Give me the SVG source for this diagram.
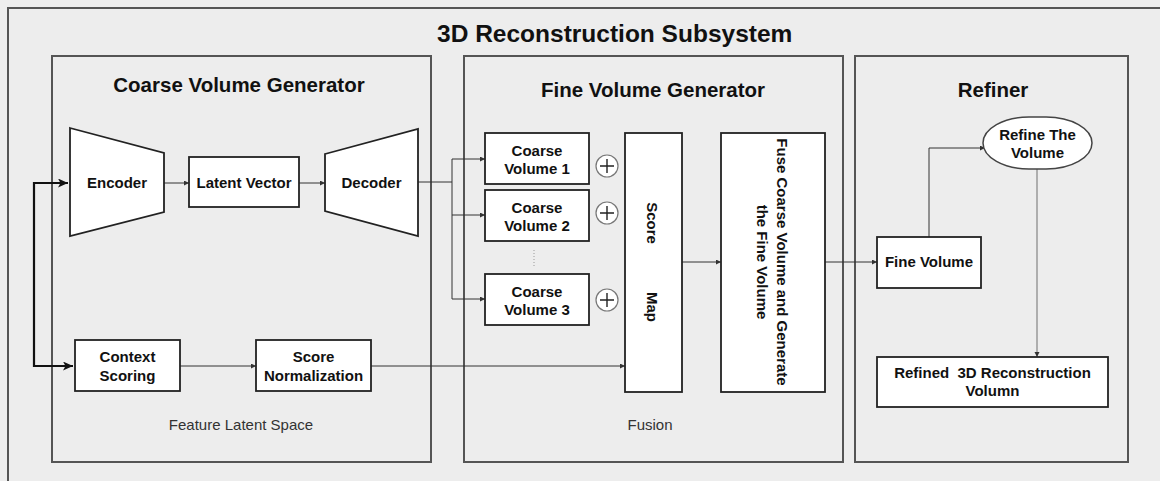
<svg xmlns="http://www.w3.org/2000/svg" width="1160" height="481" viewBox="0 0 1160 481">
  <style>
    .panel { fill: none; stroke: #555; stroke-width: 2; }
    .node { fill: #fff; stroke: #222; stroke-width: 1.8; }
    .lbl { font-family: "Liberation Sans", Arial, sans-serif; font-weight: bold; font-size: 15px; fill: #111; text-anchor: middle; }
    .ptitle { font-family: "Liberation Sans", Arial, sans-serif; font-weight: bold; font-size: 20.5px; fill: #111; text-anchor: middle; }
    .note { font-family: "Liberation Sans", Arial, sans-serif; font-size: 15px; fill: #333; text-anchor: middle; }
    .vert { dominant-baseline: central; }
    .wire { fill: none; stroke: #333; stroke-width: 1; }
    .thick { fill: none; stroke: #111; stroke-width: 2.2; }
    .plus { fill: #fff; stroke: #777; stroke-width: 1.2; }
    .plusmark { stroke: #222; stroke-width: 1.4; }
  </style>
  <defs>
    <marker id="arrowSmall" markerUnits="userSpaceOnUse" markerWidth="6" markerHeight="6" refX="5" refY="2.5" orient="auto">
      <path d="M0,0 L5,2.5 L0,5 Z" fill="#333"/>
    </marker>
    <marker id="arrowBold" markerUnits="userSpaceOnUse" markerWidth="12" markerHeight="10" refX="10" refY="4.5" orient="auto-start-reverse">
      <path d="M0,0 L10,4.5 L0,9 L2.5,4.5 Z" fill="#111"/>
    </marker>
  </defs>

  <!-- background and outer subsystem frame -->
  <rect x="0" y="0" width="1160" height="481" fill="#ededed"/>
  <rect x="8" y="8" width="1170" height="500" class="panel"/>
  <text x="437" y="42" font-family="Liberation Sans, Arial, sans-serif" font-weight="bold" font-size="24.5" fill="#111">3D Reconstruction Subsystem</text>

  <!-- stage panels -->
  <g id="coarse-panel">
    <rect x="52" y="56" width="379" height="406" class="panel"/>
    <text x="239" y="92" class="ptitle">Coarse Volume Generator</text>
    <text x="241" y="430" class="note">Feature Latent Space</text>
  </g>
  <g id="fine-panel">
    <rect x="464" y="56" width="379" height="406" class="panel"/>
    <text x="653" y="97" class="ptitle">Fine Volume Generator</text>
    <text x="650" y="430" class="note">Fusion</text>
  </g>
  <g id="refiner-panel">
    <rect x="855" y="56" width="273" height="406" class="panel"/>
    <text x="993" y="97" class="ptitle">Refiner</text>
  </g>

  <!-- connectors -->
  <g id="connectors">
    <path d="M68,183 H34 V366 H73" class="thick" marker-start="url(#arrowBold)" marker-end="url(#arrowBold)"/>
    <path d="M164,183 H189" class="wire" marker-end="url(#arrowSmall)"/>
    <path d="M299,183 H325" class="wire" marker-end="url(#arrowSmall)"/>
    <path d="M418,182 H452" class="wire"/>
    <path d="M452,159 V299" class="wire"/>
    <path d="M452,159 H485" class="wire" marker-end="url(#arrowSmall)"/>
    <path d="M452,215 H485" class="wire" marker-end="url(#arrowSmall)"/>
    <path d="M452,299 H485" class="wire" marker-end="url(#arrowSmall)"/>
    <path d="M180,366 H256" class="wire" marker-end="url(#arrowSmall)"/>
    <path d="M371,366 H625" class="wire" marker-end="url(#arrowSmall)"/>
    <path d="M682,262 H721" class="wire" marker-end="url(#arrowSmall)"/>
    <path d="M825,262 H877" class="wire" marker-end="url(#arrowSmall)"/>
    <path d="M929,237 V148 H985" class="wire" marker-end="url(#arrowSmall)"/>
    <path d="M1037,169 V357" fill="none" stroke="#999" stroke-width="1.5" marker-end="url(#arrowSmall)"/>
    <path d="M534,250 V268" fill="none" stroke="#999" stroke-width="1" stroke-dasharray="1 2"/>
  </g>

  <!-- coarse volume generator nodes -->
  <g id="encoder">
    <polygon points="70,128 164,153 164,212 70,236" class="node"/>
    <text x="117" y="188" class="lbl">Encoder</text>
  </g>
  <g id="latent-vector">
    <rect x="189" y="157" width="110" height="50" class="node"/>
    <text x="244" y="188" class="lbl">Latent Vector</text>
  </g>
  <g id="decoder">
    <polygon points="325,154 418,129 418,236 325,211" class="node"/>
    <text x="371.5" y="188" class="lbl">Decoder</text>
  </g>
  <g id="context-scoring">
    <rect x="75" y="340" width="105" height="51" class="node"/>
    <text x="127.5" y="362" class="lbl">Context</text>
    <text x="127.5" y="381" class="lbl">Scoring</text>
  </g>
  <g id="score-normalization">
    <rect x="256" y="340" width="115" height="51" class="node"/>
    <text x="313.5" y="362" class="lbl">Score</text>
    <text x="313.5" y="381" class="lbl">Normalization</text>
  </g>

  <!-- fine volume generator nodes -->
  <g id="coarse-volume-1">
    <rect x="485" y="133" width="104" height="51" class="node"/>
    <text x="537" y="156" class="lbl">Coarse</text>
    <text x="537" y="174" class="lbl">Volume 1</text>
  </g>
  <g id="coarse-volume-2">
    <rect x="485" y="190" width="104" height="51" class="node"/>
    <text x="537" y="213" class="lbl">Coarse</text>
    <text x="537" y="231" class="lbl">Volume 2</text>
  </g>
  <g id="coarse-volume-3">
    <rect x="485" y="274" width="104" height="51" class="node"/>
    <text x="537" y="297" class="lbl">Coarse</text>
    <text x="537" y="315" class="lbl">Volume 3</text>
  </g>
  <g id="plus-1">
    <circle cx="607" cy="166" r="11" class="plus"/>
    <path d="M600,166 H614 M607,159 V173" class="plusmark"/>
  </g>
  <g id="plus-2">
    <circle cx="607" cy="213" r="11" class="plus"/>
    <path d="M600,213 H614 M607,206 V220" class="plusmark"/>
  </g>
  <g id="plus-3">
    <circle cx="607" cy="300" r="11" class="plus"/>
    <path d="M600,300 H614 M607,293 V307" class="plusmark"/>
  </g>
  <g id="score-map">
    <rect x="625" y="133" width="57" height="259" class="node"/>
    <text transform="translate(652,223) rotate(90)" class="lbl vert">Score</text>
    <text transform="translate(652,307) rotate(90)" class="lbl vert">Map</text>
  </g>
  <g id="fuse">
    <rect x="721" y="133" width="104" height="259" class="node"/>
    <text transform="translate(782,262) rotate(90)" class="lbl vert">Fuse Coarse Volume and Generate</text>
    <text transform="translate(762,262) rotate(90)" class="lbl vert">the Fine Volume</text>
  </g>

  <!-- refiner nodes -->
  <g id="fine-volume">
    <rect x="877" y="237" width="104" height="51" class="node"/>
    <text x="929" y="267" class="lbl">Fine Volume</text>
  </g>
  <g id="refine-the-volume">
    <rect x="983" y="117" width="109" height="52" rx="46" ry="26" fill="#fff" stroke="#444" stroke-width="1.5"/>
    <text x="1037.5" y="140" class="lbl">Refine The</text>
    <text x="1037.5" y="158" class="lbl">Volume</text>
  </g>
  <g id="refined-volume">
    <rect x="877" y="357" width="231" height="50" class="node"/>
    <text x="992.5" y="378" class="lbl" xml:space="preserve">Refined  3D Reconstruction</text>
    <text x="992.5" y="396" class="lbl">Volumn</text>
  </g>
</svg>
